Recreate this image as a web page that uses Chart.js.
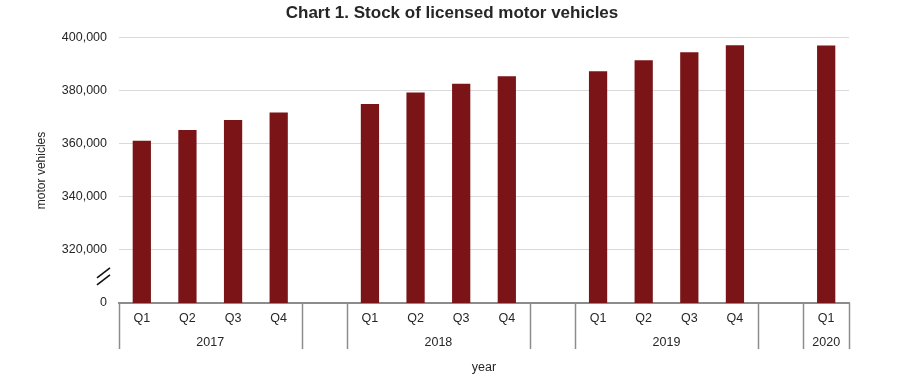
<!DOCTYPE html>
<html>
<head>
<meta charset="utf-8">
<script src="https://cdn.jsdelivr.net/npm/chart.js@4.4.1/dist/chart.umd.min.js"></script>
<style>
  html, body { margin: 0; padding: 0; background: #fff; }
  #wrap { width: 904px; height: 387px; }
</style>
</head>
<body>
<div id="wrap"><canvas id="c" width="904" height="387"></canvas></div>
<script>
// ---- data ----
const years = ['2017', '2018', '2019', '2020'];
const quarters2017 = ['Q1', 'Q2', 'Q3', 'Q4'];
const quarters2018 = ['Q1', 'Q2', 'Q3', 'Q4'];
const quarters2019 = ['Q1', 'Q2', 'Q3', 'Q4'];
const quarters2020 = ['Q1'];
const vehicles2017 = [361250, 365300, 369000, 371900];
const vehicles2018 = [375100, 379400, 382750, 385500];
const vehicles2019 = [387400, 391600, 394600, 397250];
const vehicles2020 = [397100];
const yTickValues = [300000, 320000, 340000, 360000, 380000, 400000];
const yBreakValue = 300000;

// ---- build category list with a blank slot between years ----
const groups = [
  { year: years[0], q: quarters2017, v: vehicles2017 },
  { year: years[1], q: quarters2018, v: vehicles2018 },
  { year: years[2], q: quarters2019, v: vehicles2019 },
  { year: years[3], q: quarters2020, v: vehicles2020 }
];
const labels = [];
const values = [];
const boundaries = [-0.5];
const yearCenters = [];
groups.forEach((g, gi) => {
  const start = labels.length;
  g.q.forEach((q, i) => { labels.push(q); values.push(g.v[i]); });
  const end = labels.length - 1;
  yearCenters.push({ value: (start + end) / 2, label: g.year });
  boundaries.push(end + 0.5);
  if (gi < groups.length - 1) {
    labels.push('');
    values.push(null);
    boundaries.push(end + 1.5);
  }
});
const lastIndex = labels.length - 1;

const FONT = "'Liberation Sans', Arial, sans-serif";
const TEXT = '#262626';

const decorPlugin = {
  id: 'decor',
  afterDraw(chart) {
    const ctx = chart.ctx;
    const x = chart.scales.x;
    const y = chart.scales.y;
    const area = chart.chartArea;
    ctx.save();
    // group separators in the label area
    ctx.strokeStyle = '#8c8c8c';
    ctx.lineWidth = 1.5;
    boundaries.forEach(b => {
      const px = Math.round(x.getPixelForValue(b)) + 0.5;
      ctx.beginPath();
      ctx.moveTo(px, area.bottom);
      ctx.lineTo(px, area.bottom + 46);
      ctx.stroke();
    });
    // axis break mark
    const cy = y.getPixelForValue(310000);
    const cx = area.left - 15.5;
    ctx.strokeStyle = '#111';
    ctx.lineWidth = 1.6;
    [-3.5, 3.5].forEach(off => {
      ctx.beginPath();
      ctx.moveTo(cx - 6.5, cy + off + 5);
      ctx.lineTo(cx + 6.5, cy + off - 5);
      ctx.stroke();
    });
    ctx.restore();
  }
};

new Chart(document.getElementById('c'), {
  type: 'bar',
  data: {
    labels: labels,
    datasets: [{
      data: values,
      backgroundColor: '#7a1416',
      borderWidth: 0,
      barPercentage: 0.8,
      categoryPercentage: 0.5
    }]
  },
  options: {
    responsive: false,
    animation: false,
    events: [],
    layout: { padding: 0 },
    plugins: {
      legend: { display: false },
      tooltip: { enabled: false },
      title: {
        display: true,
        text: 'Chart 1. Stock of licensed motor vehicles',
        color: TEXT,
        font: { family: FONT, size: 17, weight: 'bold' },
        padding: { top: 3.5, bottom: 14 }
      }
    },
    scales: {
      x: {
        type: 'category',
        position: 'bottom',
        offset: true,
        grid: { display: false, drawTicks: false },
        border: { display: true, color: '#8c8c8c', width: 2 },
        ticks: {
          color: TEXT,
          font: { family: FONT, size: 12.5 },
          padding: 8,
          maxRotation: 0,
          autoSkip: false
        },
        afterFit(s) { s.height = 27; }
      },
      x2: {
        type: 'linear',
        position: 'bottom',
        min: -0.5,
        max: lastIndex + 0.5,
        offset: false,
        grid: { display: false, drawTicks: false },
        border: { display: false },
        afterBuildTicks(s) { s.ticks = yearCenters.map(c => ({ value: c.value })); },
        ticks: {
          color: TEXT,
          font: { family: FONT, size: 12.5 },
          padding: 5,
          maxRotation: 0,
          autoSkip: false,
          callback(v) {
            const c = yearCenters.find(yc => yc.value === v);
            return c ? c.label : '';
          }
        },
        title: {
          display: true,
          text: 'year',
          color: TEXT,
          font: { family: FONT, size: 12.5 },
          padding: { top: 0, bottom: 12 }
        },
        afterFit(s) { s.height = 57; }
      },
      y: {
        type: 'linear',
        min: 300000,
        max: 400000,
        afterBuildTicks(s) { s.ticks = yTickValues.map(v => ({ value: v })); },
        grid: {
          color(ctx) { return ctx.tick && ctx.tick.value === yBreakValue ? 'rgba(0,0,0,0)' : '#d9d9d9'; },
          lineWidth: 1,
          drawTicks: false
        },
        border: { display: false },
        ticks: {
          color: TEXT,
          font: { family: FONT, size: 12.5 },
          padding: 12,
          callback(v) { return v === yBreakValue ? '0' : v.toLocaleString('en-US'); }
        },
        title: {
          display: true,
          text: 'motor vehicles',
          color: TEXT,
          font: { family: FONT, size: 12 },
          padding: { top: 34, bottom: 0 }
        },
        afterFit(s) { s.width = 119; }
      },
      yRight: {
        type: 'linear',
        position: 'right',
        display: true,
        grid: { display: false, drawTicks: false },
        border: { display: false },
        ticks: { display: false },
        afterFit(s) { s.width = 55; }
      }
    }
  },
  plugins: [decorPlugin]
});
</script>
</body>
</html>
